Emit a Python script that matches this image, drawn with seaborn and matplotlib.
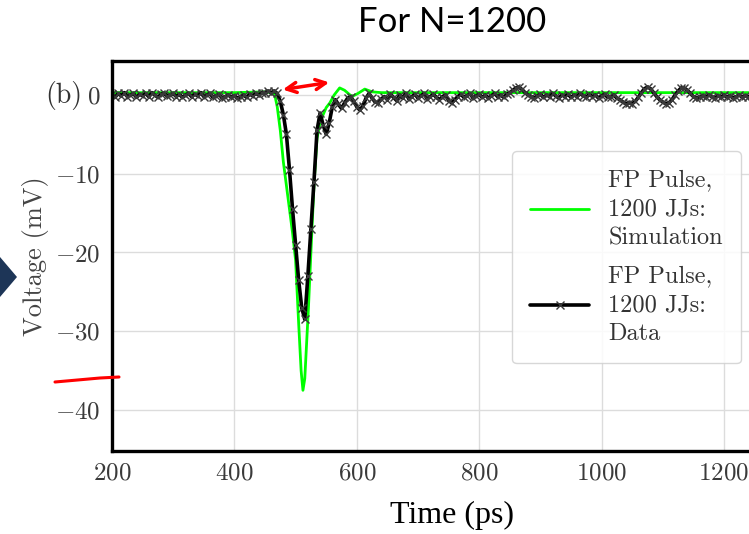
import numpy as np
import pandas as pd
import matplotlib
matplotlib.use("Agg")
import matplotlib.pyplot as plt
import seaborn as sns
from matplotlib.patches import Polygon, FancyArrowPatch
from matplotlib.lines import Line2D

W, H = 749, 534

# Simulation trace (ps, mV)
sim_t = [200, 300, 400, 450, 462, 466, 470, 475, 480, 485, 490, 495, 500, 505,
         509, 512, 515, 518, 521, 525, 530, 535, 540, 545, 550, 556, 563, 572,
         580, 592, 602, 613, 625, 640, 800, 1000, 1260]
sim_v = [0.3, 0.3, 0.3, 0.4, 0.3, 0.0, -1.5, -4.5, -8.5, -11.5, -14.5, -17.5,
         -21.0, -29.0, -35.0, -37.5, -36.0, -31.5, -27.0, -20.0, -11.5, -5.5,
         -3.5, -2.5, -1.6, -1.0, 0.0, 0.9, 0.6, -0.2, 0.2, 0.75, 0.4, 0.3, 0.3,
         0.3, 0.3]

# Measured trace, one sample every 5 ps from 200 ps
data_t0, data_dt = 200, 5
data_v = [
    0.1, -0.3, 0.2, -0.1, 0.3, -0.2, 0.0, 0.2, -0.3, 0.1,        # 200
    -0.1, 0.2, -0.2, 0.3, 0.0, -0.3, 0.1, 0.2, -0.1, 0.0,        # 250
    0.2, -0.2, 0.1, -0.3, 0.0, 0.2, -0.2, 0.1, -0.1, 0.3,        # 300
    -0.2, 0.0, 0.2, -0.3, -0.1, 0.1, -0.4, -0.2, 0.0, -0.3,      # 350
    -0.1, -0.4, -0.2, 0.0, -0.3, 0.1, -0.1, 0.2, 0.0, 0.3,       # 400
    0.2, 0.5, 0.3, 0.5, 0.2, -0.8, -2.5, -5.0, -9.5, -14.5,      # 450
    -19.0, -23.5, -27.0, -28.5, -23.0, -17.0, -11.0, -4.5, -2.3, -3.8,  # 500
    -5.0, -3.5, -1.5, -0.6, -1.2, -1.7, -1.0, -0.4, -0.2, -0.8,  # 550
    -1.5, -1.9, -1.4, -0.4, 0.2, -0.4, -0.9, -1.0, -0.5, -0.2,   # 600
    -0.6, 0.1, -0.3, -0.7, 0.0, -0.4, 0.2, -0.5, -0.2, 0.1,      # 650
    -0.4, -0.1, 0.2, -0.5, -0.2, 0.1, -0.3, -0.6, -0.2, 0.0,     # 700
    -0.7, -1.0, -0.6, -0.2, 0.1, -0.3, -0.1, 0.2, -0.4, -0.1,    # 750
    0.1, -0.3, 0.0, -0.4, -0.1, 0.2, -0.2, 0.0, -0.3, 0.1,       # 800
    0.3, 0.6, 0.9, 1.0, 0.7, 0.3, 0.0, -0.2, -0.4, -0.1,         # 850
    0.1, -0.3, 0.0, -0.2, 0.2, -0.1, -0.4, 0.0, -0.2, 0.1,       # 900
    -0.3, 0.0, -0.2, 0.2, -0.1, -0.3, 0.1, -0.2, 0.0, -0.4,      # 950
    -0.1, 0.1, -0.3, -0.2, 0.0, -0.4, -0.6, -0.9, -1.1, -1.0,    # 1000
    -1.1, -0.8, -0.3, 0.3, 0.8, 1.0, 0.8, 0.3, -0.2, -0.6,       # 1050
    -0.9, -1.1, -1.0, -0.6, 0.0, 0.5, 0.9, 0.9, 0.6, 0.2,        # 1100
    -0.2, -0.4, -0.3, -0.1, -0.3, 0.0, -0.2, -0.4, -0.1, -0.3,   # 1150
    0.0, -0.3, -0.1, -0.4, -0.2, 0.0, -0.3, -0.1, -0.2,          # 1200
]
data_t = data_t0 + data_dt * np.arange(len(data_v))

x_ticks = [200, 400, 600, 800, 1000, 1200]
y_ticks = [0, -10, -20, -30, -40]

sim = pd.DataFrame({"t": sim_t, "v": sim_v})
meas = pd.DataFrame({"t": data_t, "v": data_v})

sns.set_style("whitegrid")
plt.rcParams["font.family"] = ["cmr10", "DejaVu Serif"]
plt.rcParams["mathtext.fontset"] = "cm"
plt.rcParams["axes.formatter.use_mathtext"] = True


def px(x, y):
    # pixel position on the slide -> figure fraction
    return x / W, 1 - y / H


fig = plt.figure(figsize=(W / 100, H / 100), dpi=100)
fig.patch.set_facecolor("white")
ax_right = 760
ax = fig.add_axes([112 / W, 1 - 451 / H, (ax_right - 112) / W, (451 - 61) / H])

sns.lineplot(data=sim, x="t", y="v", ax=ax, color="#00ff00", lw=2.0,
             sort=False, label="FP Pulse,\n1200 JJs:\nSimulation")
sns.lineplot(data=meas, x="t", y="v", ax=ax, color="black", lw=2.6,
             marker="x", markersize=6, markeredgewidth=1.0,
             markeredgecolor="#3a3a3a", sort=False,
             label="FP Pulse,\n1200 JJs:\nData")

ppps = (724 - 112) / 1000.0
ax.set_xlim(200, 200 + (ax_right - 112) / ppps)
ax.set_ylim(-(451 - 95) / 7.875, (95 - 61) / 7.875)
ax.set_xticks(x_ticks)
ax.set_yticks(y_ticks)
ax.set_xlabel("")
ax.set_ylabel("")
ax.grid(True, color="#dcdcdc", lw=1.0)
for s in ax.spines.values():
    s.set_color("black")
    s.set_linewidth(2.4)
ax.tick_params(length=0, labelsize=18, labelcolor="#3a3a3a", pad=8)

leg = ax.legend(loc="upper right", bbox_to_anchor=px(741, 151),
                bbox_transform=fig.transFigure, borderaxespad=0,
                fontsize=17.5, frameon=True, fancybox=True, framealpha=0.85,
                edgecolor="#d0d0d0", handlelength=2.4, handletextpad=0.8,
                borderpad=0.75, labelspacing=0.65)
for txt in leg.get_texts():
    txt.set_color("#333333")
    txt.set_linespacing(1.4)

# slide texts around the plot
fig.text(*px(452, 22), "For N=1200", ha="center", va="center",
         fontsize=25, family=["Lato", "DejaVu Sans"], color="black")
fig.text(*px(452, 515), "Time (ps)", ha="center", va="center",
         fontsize=23, family=["Liberation Serif", "DejaVu Serif"], color="black")
fig.text(*px(36, 256), "Voltage (mV)", ha="center", va="center",
         rotation=90, fontsize=19, color="#444444")
fig.text(*px(82, 95), "(b)", ha="right", va="center", fontsize=20,
         color="#333333")

# blue slide marker on the left edge
fig.add_artist(Polygon([px(-20, 277), px(0, 257), px(17, 277), px(0, 297)],
                       closed=True, transform=fig.transFigure,
                       facecolor="#1d3557", edgecolor="none"))

# red hand-drawn marks
fig.add_artist(FancyArrowPatch(px(280, 90), px(332, 82), arrowstyle="<->",
                               mutation_scale=18, color="red", lw=2.5,
                               transform=fig.transFigure))
fig.add_artist(Line2D([55 / W, 100 / W, 119 / W],
                      [1 - 382 / H, 1 - 378 / H, 1 - 377 / H],
                      color="red", lw=2.2, transform=fig.transFigure))

fig.savefig("out.png", dpi=100)
